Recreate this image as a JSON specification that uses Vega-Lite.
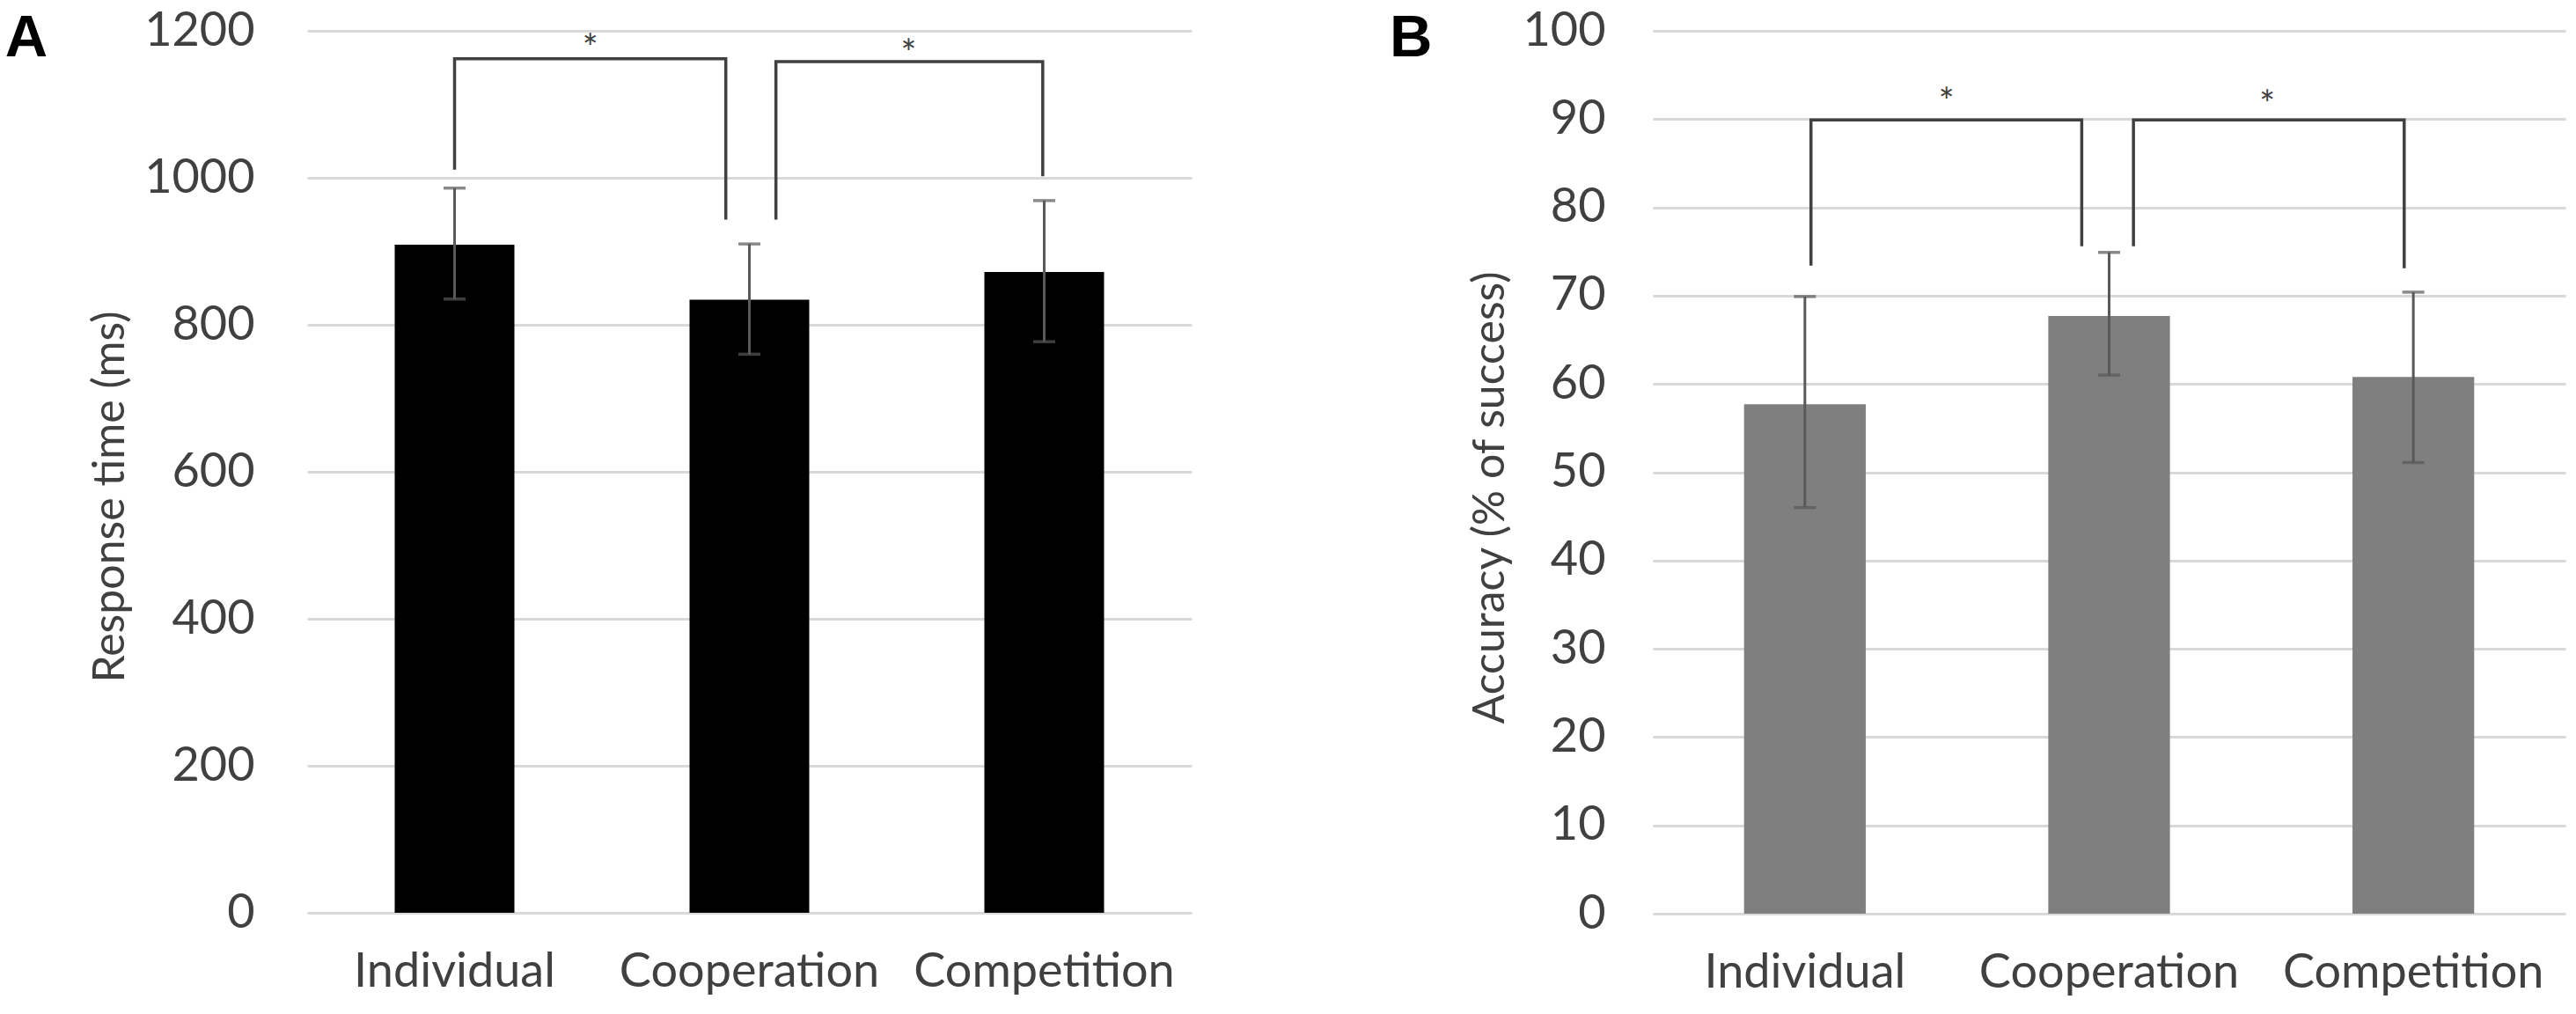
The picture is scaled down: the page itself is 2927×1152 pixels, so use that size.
{
  "$schema": "https://vega.github.io/schema/vega-lite/v6.json",
  "background": "white",
  "padding": {"left": 5, "top": 8, "right": 5, "bottom": 5},
  "spacing": 225,
  "config": {
    "view": {"stroke": null},
    "font": "Lato",
    "title": {"font": "Liberation Sans", "fontWeight": "bold", "fontSize": 67, "color": "black", "anchor": "start", "frame": "bounds", "baseline": "alphabetic", "offset": -70},
    "axis": {
      "labelFont": "Lato", "labelFontSize": 54, "labelColor": "#404040", "labelLimit": 0,
      "titleFont": "Lato", "titleFontSize": 50, "titleColor": "#404040", "titleFontWeight": "normal",
      "domain": false, "ticks": false, "tickSize": 0,
      "gridColor": "#d9d9d9", "gridWidth": 3
    }
  },
  "datasets": {
    "rt": [
      {"condition": "Individual", "mean": 909, "lo": 835, "hi": 986},
      {"condition": "Cooperation", "mean": 834, "lo": 760, "hi": 910},
      {"condition": "Competition", "mean": 872, "lo": 777, "hi": 969}
    ],
    "rtBrackets": [
      {"pair": "ind-coop", "ord": 1, "pos": 0.5, "val": 1011},
      {"pair": "ind-coop", "ord": 2, "pos": 0.5, "val": 1162},
      {"pair": "ind-coop", "ord": 3, "pos": 1.42, "val": 1162},
      {"pair": "ind-coop", "ord": 4, "pos": 1.42, "val": 943},
      {"pair": "coop-comp", "ord": 1, "pos": 1.59, "val": 943},
      {"pair": "coop-comp", "ord": 2, "pos": 1.59, "val": 1158},
      {"pair": "coop-comp", "ord": 3, "pos": 2.495, "val": 1158},
      {"pair": "coop-comp", "ord": 4, "pos": 2.495, "val": 1002}
    ],
    "rtStars": [
      {"pos": 0.96, "val": 1187, "sig": "*"},
      {"pos": 2.04, "val": 1180, "sig": "*"}
    ],
    "acc": [
      {"condition": "Individual", "mean": 57.7, "lo": 46.0, "hi": 69.9},
      {"condition": "Cooperation", "mean": 67.7, "lo": 61.0, "hi": 74.9},
      {"condition": "Competition", "mean": 60.8, "lo": 51.1, "hi": 70.4}
    ],
    "accBrackets": [
      {"pair": "ind-coop", "ord": 1, "pos": 0.52, "val": 73.4},
      {"pair": "ind-coop", "ord": 2, "pos": 0.52, "val": 89.9},
      {"pair": "ind-coop", "ord": 3, "pos": 1.41, "val": 89.9},
      {"pair": "ind-coop", "ord": 4, "pos": 1.41, "val": 75.6},
      {"pair": "coop-comp", "ord": 1, "pos": 1.58, "val": 75.6},
      {"pair": "coop-comp", "ord": 2, "pos": 1.58, "val": 89.9},
      {"pair": "coop-comp", "ord": 3, "pos": 2.47, "val": 89.9},
      {"pair": "coop-comp", "ord": 4, "pos": 2.47, "val": 73.1}
    ],
    "accStars": [
      {"pos": 0.965, "val": 92.8, "sig": "*"},
      {"pos": 2.02, "val": 92.5, "sig": "*"}
    ]
  },
  "hconcat": [
    {
      "title": {"text": "A", "dx": -95},
      "width": 1005,
      "height": 1002,
      "layer": [
        {
          "data": {"name": "rt"},
          "encoding": {
            "x": {
              "field": "condition", "type": "nominal",
              "sort": ["Individual", "Cooperation", "Competition"],
              "scale": {"paddingInner": 0.594, "paddingOuter": 0.297},
              "axis": {"title": null, "labelAngle": 0, "labelPadding": 40, "grid": false}
            }
          },
          "layer": [
            {
              "mark": {"type": "bar", "color": "black"},
              "encoding": {
                "y": {
                  "field": "mean", "type": "quantitative",
                  "scale": {"domain": [0, 1200], "nice": false},
                  "axis": {"title": "Response time (ms)", "format": "d", "values": [0, 200, 400, 600, 800, 1000, 1200], "labelPadding": 60, "titlePadding": 13, "titleY": 529}
                }
              }
            },
            {
              "mark": {"type": "rule", "color": "#595959", "strokeWidth": 3},
              "encoding": {"y": {"field": "lo", "type": "quantitative"}, "y2": {"field": "hi"}}
            },
            {
              "mark": {"type": "tick", "color": "#595959", "size": 25, "thickness": 3.5},
              "encoding": {"y": {"field": "lo", "type": "quantitative"}}
            },
            {
              "mark": {"type": "tick", "color": "#595959", "size": 25, "thickness": 3.5},
              "encoding": {"y": {"field": "hi", "type": "quantitative"}}
            }
          ]
        },
        {
          "encoding": {
            "x": {"field": "pos", "type": "quantitative", "scale": {"domain": [0, 3]}, "axis": null},
            "y": {"field": "val", "type": "quantitative"}
          },
          "layer": [
            {
              "data": {"name": "rtBrackets"},
              "mark": {"type": "line", "color": "#404040", "strokeWidth": 3.5, "strokeJoin": "miter"},
              "encoding": {"detail": {"field": "pair"}, "order": {"field": "ord"}}
            },
            {
              "data": {"name": "rtStars"},
              "mark": {"type": "text", "fontSize": 42, "color": "#404040", "baseline": "middle", "dy": 10},
              "encoding": {"text": {"field": "sig"}}
            }
          ]
        }
      ],
      "resolve": {"scale": {"x": "independent"}}
    },
    {
      "title": {"text": "B", "dx": -89},
      "width": 1037,
      "height": 1003,
      "layer": [
        {
          "data": {"name": "acc"},
          "encoding": {
            "x": {
              "field": "condition", "type": "nominal",
              "sort": ["Individual", "Cooperation", "Competition"],
              "scale": {"paddingInner": 0.6, "paddingOuter": 0.3},
              "axis": {"title": null, "labelAngle": 0, "labelPadding": 40, "grid": false}
            }
          },
          "layer": [
            {
              "mark": {"type": "bar", "color": "#7f7f7f"},
              "encoding": {
                "y": {
                  "field": "mean", "type": "quantitative",
                  "scale": {"domain": [0, 100], "nice": false},
                  "axis": {"title": "Accuracy (% of success)", "values": [0, 10, 20, 30, 40, 50, 60, 70, 80, 90, 100], "labelPadding": 54, "titlePadding": 12, "titleY": 530}
                }
              }
            },
            {
              "mark": {"type": "rule", "color": "#595959", "strokeWidth": 3},
              "encoding": {"y": {"field": "lo", "type": "quantitative"}, "y2": {"field": "hi"}}
            },
            {
              "mark": {"type": "tick", "color": "#595959", "size": 25, "thickness": 3.5},
              "encoding": {"y": {"field": "lo", "type": "quantitative"}}
            },
            {
              "mark": {"type": "tick", "color": "#595959", "size": 25, "thickness": 3.5},
              "encoding": {"y": {"field": "hi", "type": "quantitative"}}
            }
          ]
        },
        {
          "encoding": {
            "x": {"field": "pos", "type": "quantitative", "scale": {"domain": [0, 3]}, "axis": null},
            "y": {"field": "val", "type": "quantitative"}
          },
          "layer": [
            {
              "data": {"name": "accBrackets"},
              "mark": {"type": "line", "color": "#404040", "strokeWidth": 3.5, "strokeJoin": "miter"},
              "encoding": {"detail": {"field": "pair"}, "order": {"field": "ord"}}
            },
            {
              "data": {"name": "accStars"},
              "mark": {"type": "text", "fontSize": 42, "color": "#404040", "baseline": "middle", "dy": 10},
              "encoding": {"text": {"field": "sig"}}
            }
          ]
        }
      ],
      "resolve": {"scale": {"x": "independent"}}
    }
  ]
}
